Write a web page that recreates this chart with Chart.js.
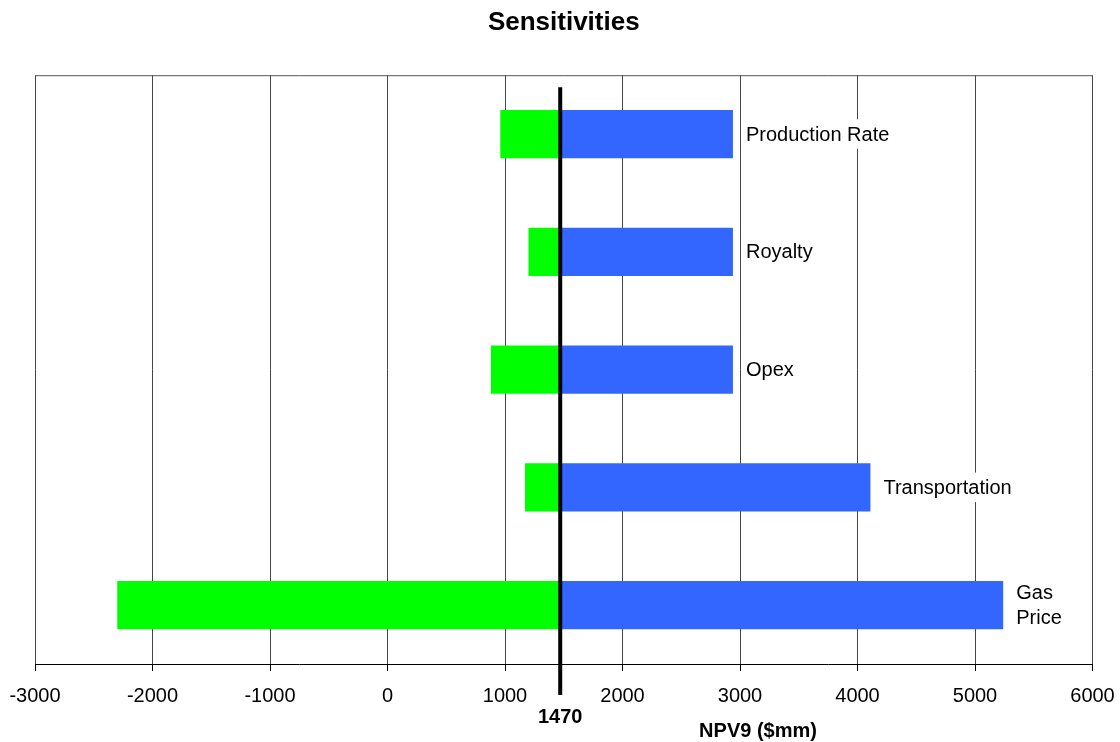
<!DOCTYPE html>
<html>
<head>
<meta charset="utf-8">
<title>Sensitivities</title>
<script src="https://cdn.jsdelivr.net/npm/chart.js@4/dist/chart.umd.min.js"></script>
<style>
  html, body { margin: 0; padding: 0; background: #fff; }
  #wrap { width: 1120px; height: 742px; }
</style>
</head>
<body>
<div id="wrap"><canvas id="c" width="1120" height="742"></canvas></div>
<script>
// Tornado chart: NPV9 downside / upside per sensitivity around the base case
const categories = ['Production Rate', 'Royalty', 'Opex', 'Transportation', ['Gas', 'Price']];
const baseCase = 1470;
const downside = [960, 1200, 880, 1170, -2300];
const upside = [2940, 2940, 2940, 4110, 5240];
const xTicks = [-3000, -2000, -1000, 0, 1000, 2000, 3000, 4000, 5000, 6000];
const axisTitle = 'NPV9 ($mm)';

const FONT = '"Liberation Sans", Arial, Helvetica, sans-serif';

const labelsPlugin = {
  id: 'tornadoLabels',
  beforeDatasetsDraw(chart) {
    const { ctx, chartArea: a } = chart;
    ctx.save();
    ctx.strokeStyle = '#555';
    ctx.lineWidth = 1;
    ctx.beginPath();
    ctx.moveTo(a.left, a.top + 0.5);
    ctx.lineTo(a.right, a.top + 0.5);
    ctx.stroke();
    ctx.restore();
  },
  afterDatasetsDraw(chart) {
    const { ctx, chartArea: a, scales } = chart;
    const xs = scales.x, ys = scales.y;
    const bx = xs.getPixelForValue(baseCase);
    ctx.save();
    // base-case line
    ctx.strokeStyle = '#000';
    ctx.lineWidth = 4;
    ctx.beginPath();
    ctx.moveTo(bx, a.top + 12);
    ctx.lineTo(bx, a.bottom + 31);
    ctx.stroke();

    // category labels right of each upside bar, on a white box
    ctx.font = '20px ' + FONT;
    ctx.textAlign = 'left';
    ctx.textBaseline = 'middle';
    categories.forEach((lab, i) => {
      const x = xs.getPixelForValue(upside[i]) + 13;
      const y = ys.getPixelForValue(i);
      const lines = Array.isArray(lab) ? lab : [lab];
      const lh = 24.5;
      const w = Math.max(...lines.map(t => ctx.measureText(t).width));
      const h = lines.length * lh + 5;
      ctx.fillStyle = '#fff';
      ctx.fillRect(x - 4, y - h / 2, w + 8, h);
      ctx.fillStyle = '#000';
      lines.forEach((t, k) => {
        ctx.fillText(t, x, y + (k - (lines.length - 1) / 2) * lh + 1);
      });
    });

    // base value and axis title
    ctx.fillStyle = '#000';
    ctx.font = 'bold 20px ' + FONT;
    ctx.textAlign = 'center';
    ctx.fillText(String(baseCase), bx, a.bottom + 53);
    ctx.fillText(axisTitle, 758, a.bottom + 67);
    ctx.restore();
  }
};

new Chart(document.getElementById('c'), {
  type: 'bar',
  data: {
    labels: categories,
    datasets: [
      {
        label: 'Low',
        data: downside.map(v => [baseCase, v]),
        backgroundColor: '#00FF00',
        borderWidth: 0,
        grouped: false,
        barPercentage: 0.41,
        categoryPercentage: 1
      },
      {
        label: 'High',
        data: upside.map(v => [baseCase, v]),
        backgroundColor: '#3366FF',
        borderWidth: 0,
        grouped: false,
        barPercentage: 0.41,
        categoryPercentage: 1
      }
    ]
  },
  options: {
    indexAxis: 'y',
    responsive: false,
    animation: false,
    layout: { padding: { left: 35, right: 27.5, top: 0, bottom: 0 } },
    plugins: {
      legend: { display: false },
      tooltip: { enabled: false },
      title: {
        display: true,
        text: 'Sensitivities',
        color: '#000',
        font: { family: FONT, size: 26, weight: 'bold' },
        padding: { top: 7, bottom: 37 }
      }
    },
    scales: {
      x: {
        type: 'linear',
        min: xTicks[0],
        max: xTicks[xTicks.length - 1],
        afterBuildTicks(scale) {
          scale.ticks = xTicks.map(v => ({ value: v }));
        },
        afterFit(scale) {
          // fixed axis band below the plot; edge labels may overhang
          scale.height = 78;
          scale.paddingLeft = 0;
          scale.paddingRight = 0;
        },
        grid: {
          color: '#444',
          lineWidth: 1,
          tickColor: '#000',
          tickLength: 7
        },
        border: { color: '#000', width: 1 },
        ticks: {
          color: '#000',
          padding: 13,
          maxRotation: 0,
          autoSkip: false,
          font: { family: FONT, size: 20 },
          callback: v => String(v)
        }
      },
      y: {
        type: 'category',
        display: false
      }
    }
  },
  plugins: [labelsPlugin]
});
</script>
</body>
</html>
